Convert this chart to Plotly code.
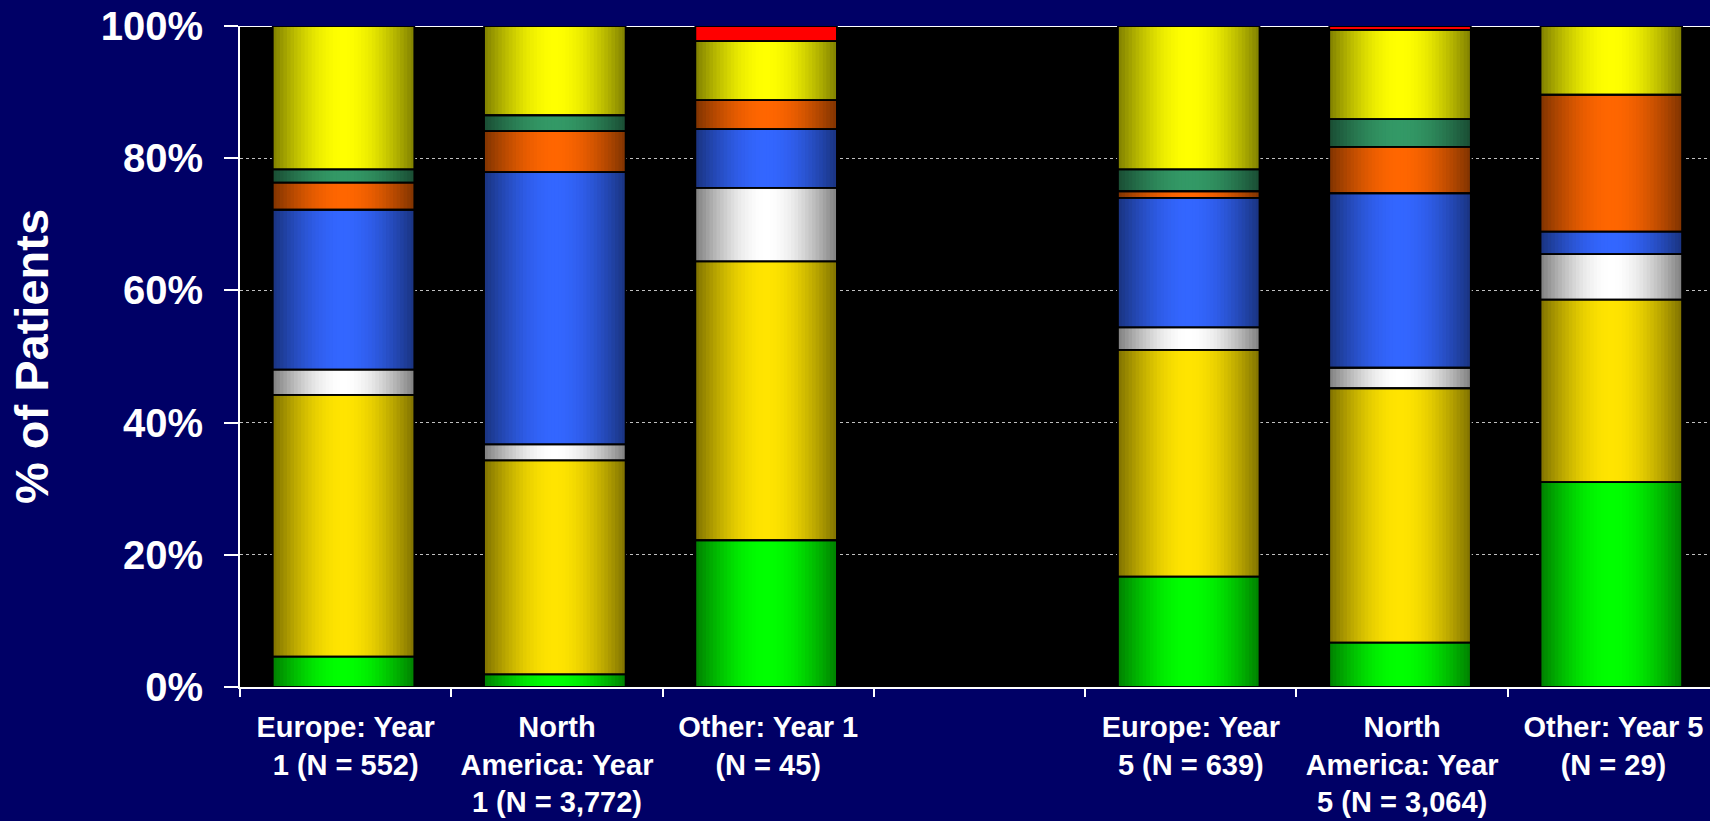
import numpy as np
import plotly.graph_objects as go

# Category slots (the blank slot separates Year 1 from Year 5)
categories = [
    "Europe: Year<br>1 (N = 552)",
    "North<br>America: Year<br>1 (N = 3,772)",
    "Other: Year 1<br>(N = 45)",
    " ",
    "Europe: Year<br>5 (N = 639)",
    "North<br>America: Year<br>5 (N = 3,064)",
    "Other: Year 5<br>(N = 29)",
]
bar_categories = [c for c in categories if c.strip()]

# Percent of patients per segment, listed bottom to top of each stack
green = [4.6, 1.9, 22.2, 16.7, 6.7, 31.0]
gold = [39.6, 32.4, 42.2, 34.3, 38.5, 27.6]
white = [3.8, 2.4, 11.1, 3.4, 3.1, 6.9]
blue = [24.2, 41.2, 8.9, 19.6, 26.4, 3.4]
orange = [4.1, 6.2, 4.4, 1.0, 7.0, 20.7]
teal = [2.0, 2.4, 0.0, 3.3, 4.2, 0.0]
yellow = [21.7, 13.5, 8.9, 21.7, 13.5, 10.4]
red = [0.0, 0.0, 2.3, 0.0, 0.6, 0.0]

y_ticks = [0, 20, 40, 60, 80, 100]
y_tick_labels = ["0%", "20%", "40%", "60%", "80%", "100%"]

series = [
    ("Green", green, (0, 255, 0), True),
    ("Gold", gold, (255, 228, 0), True),
    ("White", white, (255, 255, 255), True),
    ("Blue", blue, (51, 102, 255), True),
    ("Orange", orange, (255, 102, 0), True),
    ("Teal", teal, (51, 153, 102), True),
    ("Yellow", yellow, (255, 255, 0), True),
    ("Red", red, (255, 0, 0), False),
]

BAR_W = 0.67
SHIFT = -0.01
N_STRIPS = 40

values = np.array([s[1] for s in series], dtype=float)
bases = np.vstack([np.zeros(values.shape[1]), np.cumsum(values, axis=0)[:-1]])


def shade(rgb, u):
    f = 0.5 + 0.5 * np.sin(np.pi * u)
    return "rgb({},{},{})".format(*[int(round(c * f)) for c in rgb])


def nz(arr):
    return [v if v > 0 else None for v in arr]


fig = go.Figure()

# cylinder-like shading: each segment is built from narrow vertical strips
step = BAR_W / N_STRIPS
for (name, vals, rgb, graded), base in zip(series, bases):
    if graded:
        for k in range(N_STRIPS):
            u = (k + 0.5) / N_STRIPS
            off = -BAR_W / 2 + SHIFT + k * step
            w = min(step * 1.6, BAR_W - k * step)
            fig.add_trace(go.Bar(
                x=bar_categories, y=nz(vals), base=list(base),
                offset=off, width=w, name=name,
                marker=dict(color=shade(rgb, u), line=dict(width=0)),
                hoverinfo="skip", showlegend=False,
            ))
    else:
        fig.add_trace(go.Bar(
            x=bar_categories, y=nz(vals), base=list(base),
            offset=-BAR_W / 2 + SHIFT, width=BAR_W, name=name,
            marker=dict(color="rgb({},{},{})".format(*rgb), line=dict(width=0)),
            hoverinfo="skip", showlegend=False,
        ))

# segment outlines
for (name, vals, rgb, graded), base in zip(series, bases):
    fig.add_trace(go.Bar(
        x=bar_categories, y=nz(vals), base=list(base),
        offset=-BAR_W / 2 + SHIFT, width=BAR_W, name=name,
        marker=dict(color="rgba(0,0,0,0)", line=dict(color="black", width=1.8)),
        hovertemplate="%{x}<br>" + name + ": %{y:.1f}%<extra></extra>",
        showlegend=False,
    ))

# solid line along the 100% level
fig.add_shape(type="line", xref="paper", yref="y", x0=0, x1=1, y0=100, y1=100,
              line=dict(color="white", width=2), layer="between")

font_family = "Liberation Sans, Arial, Helvetica, sans-serif"

fig.update_layout(
    width=1710, height=821,
    margin=dict(l=240, r=0, t=26, b=134),
    paper_bgcolor="#000066",
    plot_bgcolor="#000000",
    barmode="overlay",
    showlegend=False,
    font=dict(family=font_family, color="white"),
)

fig.update_xaxes(
    type="category", categoryorder="array", categoryarray=categories,
    range=[-0.5, 6.457],
    tickson="boundaries", ticks="outside", ticklen=8, tickwidth=2, tickcolor="white",
    showline=True, linecolor="white", linewidth=2, showgrid=False,
    tickfont=dict(size=29, weight="bold", color="white", family=font_family),
    ticklabelstandoff=13,
)

fig.update_yaxes(
    range=[0, 100], tickmode="array", tickvals=y_ticks, ticktext=y_tick_labels,
    ticks="outside", ticklen=14, tickwidth=2, tickcolor="white",
    showline=True, linecolor="white", linewidth=2,
    showgrid=True, gridcolor="#BFBFBF", griddash="dot", gridwidth=1,
    zeroline=False,
    tickfont=dict(size=40, weight="bold", color="white", family=font_family),
    ticklabelstandoff=13,
    title=dict(text="% of Patients", standoff=37,
               font=dict(size=47, weight="bold", color="white", family=font_family)),
)

fig.write_html("out.html")
